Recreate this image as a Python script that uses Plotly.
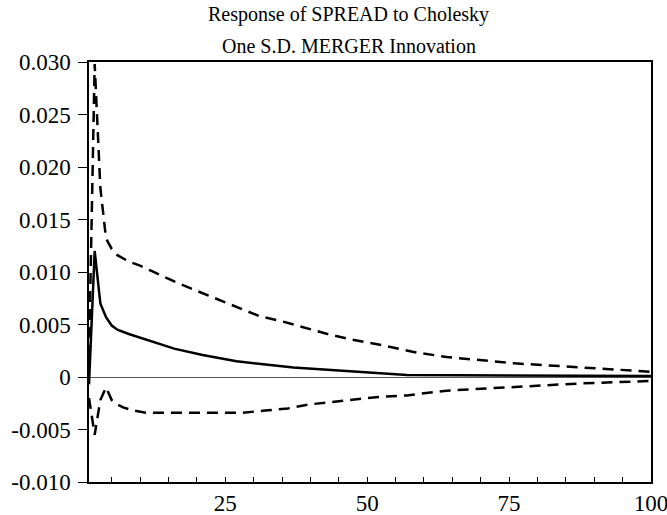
import plotly.graph_objects as go

# Impulse response (solid)
resp_period = [1, 2, 3, 4, 5, 6, 8, 11, 16, 21, 27, 37, 45, 57, 75, 100]
resp_value = [-0.0007, 0.0120, 0.0070, 0.0057, 0.0049, 0.0045, 0.0041, 0.0036,
              0.0027, 0.0021, 0.0015, 0.0009, 0.0006, 0.0002, 0.00015, 0.0001]

# Upper confidence band (dashed)
upper_period = [1, 2, 3, 4, 5, 6, 8, 10, 12, 16, 20, 24, 28, 31, 35, 39, 43, 47,
                52, 58, 64, 76, 88, 100]
upper_value = [0.0020, 0.0298, 0.0180, 0.0132, 0.0122, 0.0116, 0.0110, 0.0106,
               0.0101, 0.0091, 0.0082, 0.0073, 0.0064, 0.0058, 0.0053, 0.0047,
               0.0041, 0.0036, 0.0031, 0.0024, 0.0019, 0.0013, 0.0009, 0.0005]

# Lower confidence band (dashed)
lower_period = [1, 2, 3, 4, 5, 6, 7, 9, 11, 20, 28, 32, 36, 40, 45, 52, 57, 64,
                76, 88, 100]
lower_value = [-0.0020, -0.0055, -0.0022, -0.0010, -0.0022, -0.0026, -0.0029,
               -0.0032, -0.0034, -0.0034, -0.0034, -0.0032, -0.0030, -0.0026,
               -0.0023, -0.0019, -0.00175, -0.0013, -0.00095, -0.0006, -0.00038]

y_tickvals = [0.030, 0.025, 0.020, 0.015, 0.010, 0.005, 0, -0.005, -0.010]
y_ticktext = ["0.030", "0.025", "0.020", "0.015", "0.010", "0.005", "0",
              "-0.005", "-0.010"]
x_tickvals = [25, 50, 75, 100]
x_ticktext = ["25", "50", "75", "100"]

title_line1 = "Response of SPREAD to Cholesky"
title_line2 = "One S.D. MERGER Innovation"

FONT = "Liberation Serif, Times New Roman, serif"

fig = go.Figure()
fig.add_trace(go.Scatter(x=upper_period, y=upper_value, mode="lines",
                         line=dict(color="black", width=2.5, dash="11px,7px"),
                         showlegend=False, hoverinfo="skip"))
fig.add_trace(go.Scatter(x=lower_period, y=lower_value, mode="lines",
                         line=dict(color="black", width=2.5, dash="11px,7px"),
                         showlegend=False, hoverinfo="skip"))
fig.add_trace(go.Scatter(x=resp_period, y=resp_value, mode="lines",
                         line=dict(color="black", width=2.5),
                         showlegend=False, hoverinfo="skip"))

fig.update_layout(
    width=667, height=515,
    margin=dict(l=89, r=16, t=62, b=33, autoexpand=False),
    paper_bgcolor="white", plot_bgcolor="white",
    font=dict(family=FONT, size=23, color="black"),
    xaxis=dict(range=[1, 100], tickvals=x_tickvals, ticktext=x_ticktext,
               automargin=False, ticklabeloverflow="allow",
               ticks="inside", ticklen=5, tickwidth=1.2, tickcolor="black",
               minor=dict(dtick=5, tick0=0, ticks="inside", ticklen=5,
                          tickwidth=1.2, tickcolor="black"),
               showline=True, linecolor="black", linewidth=1.5, mirror=True,
               showgrid=False, zeroline=False,
               tickfont=dict(family=FONT, size=23)),
    yaxis=dict(range=[-0.010, 0.030], tickvals=y_tickvals, ticktext=y_ticktext,
               automargin=False, ticklabelstandoff=3, ticklabeloverflow="allow",
               ticks="outside", ticklen=9, tickwidth=1.2, tickcolor="black",
               showline=True, linecolor="black", linewidth=1.5, mirror=True,
               showgrid=False, zeroline=True, zerolinecolor="#555555",
               zerolinewidth=1, tickfont=dict(family=FONT, size=23)),
)

fig.add_annotation(text=title_line1, xref="paper", yref="paper",
                   x=0.4626, y=1.112, xanchor="center", yanchor="middle",
                   showarrow=False, font=dict(family=FONT, size=20))
fig.add_annotation(text=title_line2, xref="paper", yref="paper",
                   x=0.4626, y=1.037, xanchor="center", yanchor="middle",
                   showarrow=False, font=dict(family=FONT, size=20))

fig.write_html("out.html", config={"displayModeBar": False},
               post_script="document.body.style.margin='0';document.body.style.padding='0';")
